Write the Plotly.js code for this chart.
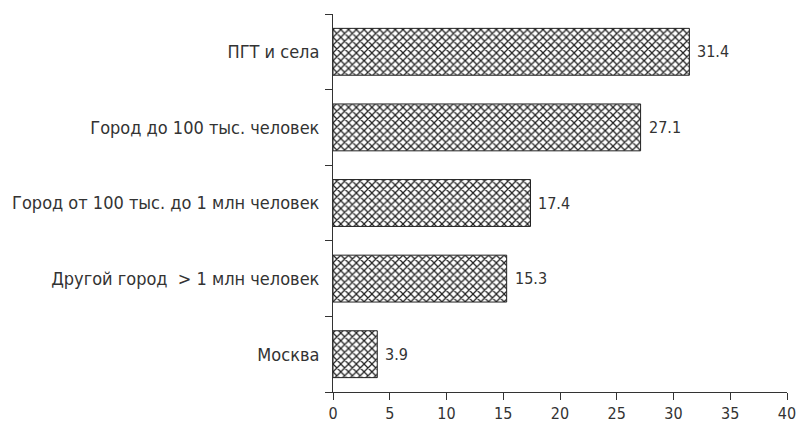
<!DOCTYPE html>
<html>
<head>
<meta charset="utf-8">
<script src="https://cdn.plot.ly/plotly-3.0.1.min.js"></script>
<style>html,body{margin:0;padding:0;background:#fff}#chart{width:796px;height:423px}</style>
</head>
<body>
<div id="chart"></div>
<script>
const categories = ["Москва", "Другой город  > 1 млн человек", "Город от 100 тыс. до 1 млн человек", "Город до 100 тыс. человек", "ПГТ и села"];
const values = [3.9, 15.3, 17.4, 27.1, 31.4];
const valueLabels = ["3.9", "15.3", "17.4", "27.1", "31.4"];
const xTicks = [0, 5, 10, 15, 20, 25, 30, 35, 40];

const fontFam = "'Liberation Sans Narrow', 'DejaVu Sans Condensed', 'Liberation Sans', sans-serif";

const trace = {
  type: "bar",
  orientation: "h",
  y: categories,
  x: values,
  width: 0.62,
  marker: {
    color: "white",
    line: {color: "#222", width: 1},
    pattern: {shape: "x", fgcolor: "#222", bgcolor: "white", size: 5.5, solidity: 0.4}
  },
  hoverinfo: "none"
};

const annotations = categories.map((c, i) => ({
  x: values[i], y: c, xref: "x", yref: "y",
  text: valueLabels[i], showarrow: false,
  xanchor: "left", yanchor: "middle", xshift: 6,
  font: {family: fontFam, size: 16, color: "#333"}
}));

const layout = {
  width: 796, height: 423,
  margin: {l: 333, r: 9, t: 14, b: 31},
  paper_bgcolor: "white", plot_bgcolor: "white",
  showlegend: false,
  font: {family: fontFam, color: "#333"},
  annotations: annotations,
  xaxis: {
    range: [0, 40], tickvals: xTicks, ticktext: xTicks.map(String),
    showgrid: false, zeroline: false, showline: true, linecolor: "#333", linewidth: 1,
    ticks: "outside", ticklen: 7, tickcolor: "#333",
    ticklabeloverflow: "allow",
    tickfont: {family: fontFam, size: 16, color: "#333"}
  },
  yaxis: {
    type: "category", range: [-0.5, 4.5],
    showgrid: false, zeroline: false, showline: true, linecolor: "#333", linewidth: 1,
    ticks: "outside", ticklen: 7, tickcolor: "#333", tickson: "boundaries",
    ticklabelstandoff: 9,
    tickfont: {family: fontFam, size: 18, color: "#333"}
  }
};

Plotly.newPlot("chart", [trace], layout, {displayModeBar: false, staticPlot: true});
</script>
</body>
</html>
